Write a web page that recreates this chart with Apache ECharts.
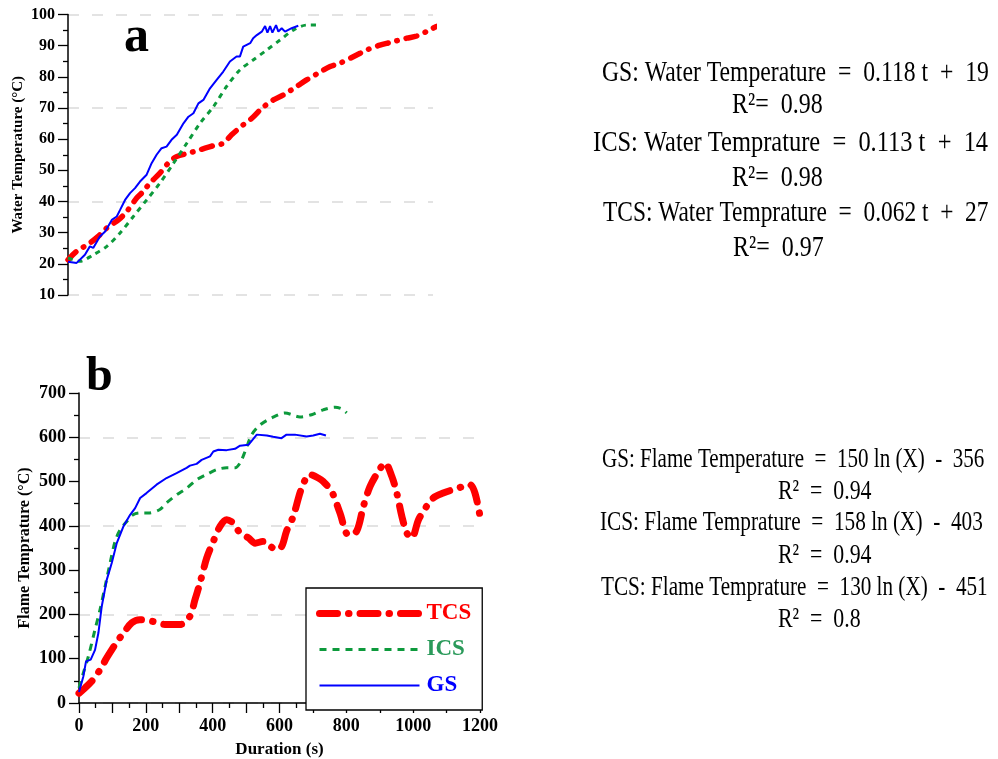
<!DOCTYPE html>
<html>
<head>
<meta charset="utf-8">
<script src="https://cdn.jsdelivr.net/npm/echarts@6/dist/echarts.min.js"></script>
<style>
  html, body { margin: 0; padding: 0; background: #fff; }
  #main { width: 998px; height: 759px; }
</style>
</head>
<body>
<div id="main"></div>
<script>
// (a) water temperature, [time s, °C]
const waterGS = [[0,20.7],[26,20.3],[51,22.9],[66,25.6],[76,25.1],[96,28.8],[112,30.4],[132,34.1],[147,35.2],[157,37.3],
  [172,40.5],[187,42.7],[202,44.3],[217,46.4],[237,48.6],[252,52.3],[267,55.0],[282,57.1],[297,57.6],[312,59.8],
  [328,61.4],[348,65.1],[363,67.2],[378,68.3],[393,71.5],[408,72.6],[428,76.3],[448,79.0],[468,81.7],[488,84.9],
  [508,86.5],[518,86.5],[528,89.7],[549,90.8],[558,92.4],[569,93.4],[584,94.5],[594,96.3],[601,94.2],[609,96.3],
  [616,94.2],[627,96.6],[634,94.5],[644,95.6],[654,94.5],[674,95.6],[694,96.4]];
const waterICS = [[0,21.9],[36,20.8],[76,22.9],[117,25.6],[157,29.9],[197,35.2],[237,40.5],[277,45.9],[318,52.3],
  [358,58.7],[398,65.1],[438,70.4],[478,76.9],[518,82.2],[558,85.4],[599,88.6],[639,91.8],[679,95.0],[719,96.6],[754,96.6]];
const waterTCS = [[0,21.3],[26,24.0],[66,26.7],[91,28.8],[117,31.5],[152,34.1],[177,36.8],[207,41.1],[222,42.7],
  [247,45.9],[277,49.1],[302,52.3],[327,54.4],[363,55.5],[398,56.6],[438,57.9],[468,58.7],[493,61.4],[528,64.6],
  [554,66.7],[584,69.9],[619,72.6],[649,74.2],[689,76.9],[719,79.0],[754,81.2],[790,83.3],[820,84.4],[870,87.0],
  [900,88.6],[940,90.2],[970,91.0],[1021,92.4],[1051,93.1],[1086,94.8],[1121,96.4],[1146,96.4]];

// (b) flame temperature, [time s, °C]
const flameGS = [[0,25],[13,60],[21,94],[35,98],[48,120],[58,158],[68,218],[83,278],[98,316],[113,361],[133,399],
  [153,425],[168,440],[183,463],[202,474],[232,493],[262,508],[292,519],[322,531],[332,536],[352,540],[367,549],
  [392,557],[402,568],[417,572],[442,571],[467,574],[482,581],[507,583],[532,606],[562,604],[581,601],[606,598],
  [621,606],[646,606],[681,602],[701,604],[721,608],[739,604]];
const flameICS = [[0,34],[13,68],[28,105],[48,166],[63,211],[78,263],[93,316],[108,365],[123,391],[143,410],[162,425],
  [182,429],[207,429],[242,437],[262,452],[292,470],[322,485],[352,504],[382,516],[412,527],[442,531],[467,531],
  [482,542],[497,568],[517,606],[542,628],[577,644],[616,655],[661,646],[696,651],[731,662],[766,668],[786,664],[801,655]];
const flameTCS = [[0,22],[18,34],[38,49],[63,75],[83,102],[108,132],[133,158],[158,181],[182,188],[222,184],[262,177],
  [302,177],[332,196],[347,233],[362,271],[382,327],[402,365],[422,399],[442,414],[462,406],[482,384],[507,373],
  [527,361],[552,365],[572,354],[592,346],[607,354],[621,388],[641,421],[666,485],[691,516],[716,508],[731,500],
  [756,478],[781,429],[806,380],[831,388],[851,444],[871,489],[896,523],[916,542],[936,512],[951,474],[966,422],
  [981,384],[996,373],[1016,414],[1040,444],[1060,463],[1090,474],[1120,482],[1150,489],[1170,493],[1185,474],[1200,422]];

// fitted equations: text, left x, centre y, horizontal squeeze
const waterEq = [
  ['GS: Water Temperature  =  0.118 t  +  19', 602, 73, 0.79],
  ['R\u00b2=  0.98', 732, 105, 0.8],
  ['ICS: Water Temprature  =  0.113 t  +  14', 593, 143, 0.815],
  ['R\u00b2=  0.98', 732, 178, 0.8],
  ['TCS: Water Temprature  =  0.062 t  +  27', 603, 213, 0.78],
  ['R\u00b2=  0.97', 733, 248, 0.8]
];
const flameEq = [
  ['GS: Flame Temperature  =  150 ln (X)  -  356', 602, 460, 0.752],
  ['R\u00b2  =  0.94', 778, 492, 0.78],
  ['ICS: Flame Temprature  =  158 ln (X)  -  403', 600, 523, 0.76],
  ['R\u00b2  =  0.94', 778, 556, 0.78],
  ['TCS: Flame Temprature  =  130 ln (X)  -  451', 601, 588, 0.756],
  ['R\u00b2  =  0.8', 778, 620, 0.78]
];

const RED = '#ff0000', GREEN = '#0d9a3c', BLUE = '#0000ff';
const serif = 'Liberation Serif, Times New Roman, serif';

let chart = echarts.init(document.getElementById('main'));

function eqText(size) {
  return function (e) {
    return {
      type: 'text', x: e[1], y: e[2], scaleX: e[3],
      style: { text: e[0], x: 0, y: 0, textAlign: 'left', textVerticalAlign: 'middle',
        font: size + 'px ' + serif, fill: '#000' }
    };
  };
}

function yAx(grid, min, max, name, gap, fs, nfs, every) {
  let colors = [];
  for (let i = 0; i < every; i++) colors.push(i === 0 ? '#e3e3e3' : 'rgba(0,0,0,0)');
  return {
    type: 'value', gridIndex: grid, min: min, max: max, interval: max > 100 ? 100 : 10,
    name: name, nameLocation: 'middle', nameGap: gap,
    nameTextStyle: { fontFamily: serif, fontWeight: 'bold', fontSize: nfs, color: '#000' },
    axisLine: { show: true, lineStyle: { color: '#000', width: 1.5 } },
    axisTick: { show: true, length: 10, lineStyle: { color: '#000', width: 1.3 } },
    minorTick: { show: true, splitNumber: 2, length: 5, lineStyle: { color: '#000', width: 1.3 } },
    axisLabel: { fontFamily: serif, fontWeight: 'bold', fontSize: fs, color: '#000', margin: 13 },
    splitLine: { show: true, lineStyle: { color: colors, width: 2, type: [11, 13] } }
  };
}

chart.setOption({
  animation: false,
  backgroundColor: '#fff',
  grid: [
    { left: 68, top: 14.5, width: 365, height: 280.5 },
    { left: 79, top: 393, width: 401, height: 310 }
  ],
  xAxis: [
    { type: 'value', gridIndex: 0, min: 0, max: 1100, show: false },
    {
      type: 'value', gridIndex: 1, min: 0, max: 1200, interval: 100,
      name: 'Duration (s)', nameLocation: 'middle', nameGap: 38,
      nameTextStyle: { fontFamily: serif, fontWeight: 'bold', fontSize: 17, color: '#000' },
      axisLine: { lineStyle: { color: '#000', width: 1.5 } },
      axisTick: { length: 10, lineStyle: { color: '#000', width: 1.3 } },
      minorTick: { show: true, splitNumber: 2, length: 5, lineStyle: { color: '#000', width: 1.3 } },
      axisLabel: { fontFamily: serif, fontWeight: 'bold', fontSize: 18, color: '#000', margin: 14,
        formatter: function (v) { return v % 200 === 0 ? v : ''; } },
      splitLine: { show: false }
    }
  ],
  yAxis: [
    yAx(0, 10, 100, 'Water Temperature (\u00b0C)', 42, 16, 15, 3),
    yAx(1, 0, 700, 'Flame Temprature (\u00b0C)', 46, 18, 16, 2)
  ],
  legend: {
    orient: 'vertical', left: 306, top: 588,
    padding: [14, 11, 13, 10], itemGap: 13, itemWidth: 100, itemHeight: 20,
    borderColor: '#000', borderWidth: 1.3, backgroundColor: '#fff',
    itemStyle: { opacity: 0 },
    lineStyle: { width: 'inherit' },
    textStyle: { fontFamily: serif, fontWeight: 'bold', fontSize: 23, padding: [0, 0, 0, 2], lineHeight: 20 },
    data: [
      { name: 'TCS', textStyle: { color: RED } },
      { name: 'ICS', textStyle: { color: '#2a9a5a' } },
      { name: 'GS', textStyle: { color: BLUE } }
    ]
  },
  series: [
    { name: 'TCS a', type: 'line', xAxisIndex: 0, yAxisIndex: 0, data: waterTCS, symbol: 'none', smooth: 0.3, clip: false,
      lineStyle: { color: RED, width: 5.5, type: [11, 9, 0.5, 9], cap: 'round' } },
    { name: 'ICS a', type: 'line', xAxisIndex: 0, yAxisIndex: 0, data: waterICS, symbol: 'none', smooth: 0.3,
      lineStyle: { color: GREEN, width: 3, type: [5, 5] } },
    { name: 'GS a', type: 'line', xAxisIndex: 0, yAxisIndex: 0, data: waterGS, symbol: 'none',
      lineStyle: { color: BLUE, width: 2 } },
    { name: 'TCS', type: 'line', xAxisIndex: 1, yAxisIndex: 1, data: flameTCS, symbol: 'none', smooth: 0.3,
      itemStyle: { color: RED },
      lineStyle: { color: RED, width: 7, type: [18, 11, 0.5, 11], cap: 'round' } },
    { name: 'ICS', type: 'line', xAxisIndex: 1, yAxisIndex: 1, data: flameICS, symbol: 'none', smooth: 0.3,
      itemStyle: { color: GREEN },
      lineStyle: { color: GREEN, width: 3, type: [7, 6] } },
    { name: 'GS', type: 'line', xAxisIndex: 1, yAxisIndex: 1, data: flameGS, symbol: 'none',
      itemStyle: { color: BLUE },
      lineStyle: { color: BLUE, width: 2 } }
  ],
  graphic: [
    { type: 'text', x: 124, y: 38, style: { text: 'a', font: 'bold 50px ' + serif, fill: '#000', textVerticalAlign: 'middle' } },
    { type: 'text', x: 86, y: 378, style: { text: 'b', font: 'bold 48px ' + serif, fill: '#000', textVerticalAlign: 'middle' } }
  ].concat(waterEq.map(eqText(30)), flameEq.map(eqText(28)))
});
</script>
</body>
</html>
